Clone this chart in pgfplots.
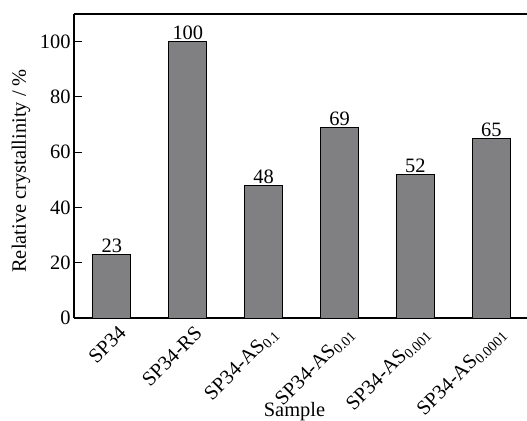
\documentclass[border=0pt]{standalone}
\usepackage{pgfplots}
\pgfplotsset{compat=1.18}
\usepackage{fontspec}
\setmainfont{Liberation Serif}
\definecolor{bargray}{RGB}{128,127,130}
\newcommand{\fs}{\fontsize{20.5}{23}\selectfont}
\begin{document}
\begin{tikzpicture}
\begin{axis}[
  scale only axis, width=453bp, height=304bp,
  xmin=-0.5, xmax=5.47, ymin=0, ymax=110,
  axis x line=box, axis y line*=left,
  axis line style={line width=1.1pt},
  xtick={0,1,2,3,4,5},
  xticklabels={SP34, SP34-RS, SP34-AS\textsubscript{0.1}, SP34-AS\textsubscript{0.01}, SP34-AS\textsubscript{0.001}, SP34-AS\textsubscript{0.0001}},
  x tick label style={rotate=45, anchor=north east, font=\fs, inner sep=1pt, xshift=6bp, yshift=-2bp},
  major x tick style={draw=none},
  ytick={0,20,40,60,80,100},
  y tick label style={font=\fs},
  tick align=inside, major tick length=8bp,
  every tick/.style={line width=1pt, black},
  /pgf/number format/assume math mode=true,
  ylabel={Relative crystallinity / \%}, xlabel={Sample},
  ylabel style={at={(axis description cs:-0.117,0.484)}, anchor=center, font=\fs},
  xlabel style={at={(axis description cs:0.5,0)}, anchor=base, xshift=-6bp, yshift=-98bp, font=\fs},
  ybar, bar width=38bp,
  nodes near coords,
  every node near coord/.append style={font=\fs, black, inner sep=1.5pt},
]
\addplot[fill=bargray, draw=black, line width=1pt] coordinates {(0,23)(1,100)(2,48)(3,69)(4,52)(5,65)};
\coordinate (O) at (rel axis cs:0,0);
\end{axis}
\pgfresetboundingbox
\path (O) ++(-74bp,-103bp) rectangle ++(527bp,421bp);
\end{tikzpicture}
\end{document}
